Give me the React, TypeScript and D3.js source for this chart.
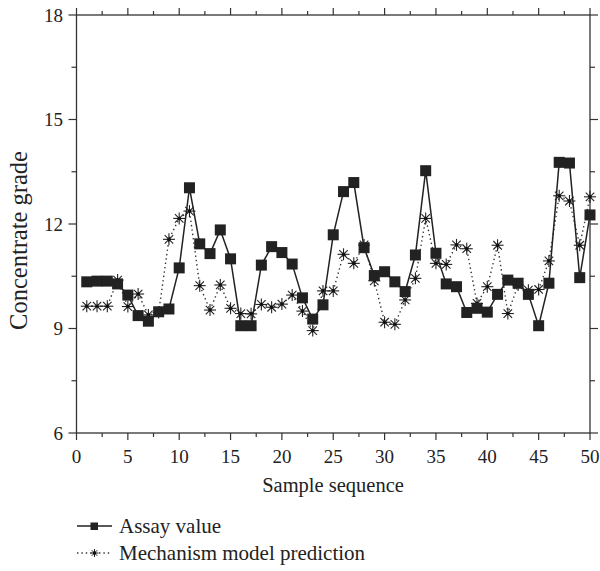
import React from "react";
import * as d3 from "d3";

const sampleIds = d3.range(1, 51);
const assayValues = [
  10.34, 10.36, 10.36, 10.28, 9.96, 9.37, 9.21, 9.48, 9.56, 10.74,
  13.04, 11.43, 11.15, 11.83, 11.0, 9.08, 9.08, 10.82, 11.35, 11.18,
  10.85, 9.88, 9.27, 9.68, 11.69, 12.93, 13.19, 11.32, 10.52, 10.63,
  10.34, 10.06, 11.11, 13.53, 11.16, 10.28, 10.2, 9.46, 9.58, 9.47,
  9.98, 10.39, 10.3, 9.98, 9.08, 10.3, 13.77, 13.75, 10.46, 12.26,
];
const modelValues = [
  9.64, 9.64, 9.64, 10.39, 9.63, 9.99, 9.39, 9.46, 11.56, 12.16,
  12.37, 10.23, 9.53, 10.25, 9.58, 9.43, 9.42, 9.69, 9.61, 9.7,
  9.96, 9.5, 8.94, 10.08, 10.08, 11.13, 10.87, 11.4, 10.37, 9.18,
  9.12, 9.82, 10.44, 12.16, 10.87, 10.84, 11.4, 11.29, 9.72, 10.2,
  11.39, 9.43, 10.25, 10.1, 10.12, 10.94, 12.81, 12.66, 11.39, 12.78,
];
const xTicks = [0, 5, 10, 15, 20, 25, 30, 35, 40, 45, 50];
const yTicks = [6, 9, 12, 15, 18];
const xLabel = "Sample sequence";
const yLabel = "Concentrate grade";
const legendLabels = ["Assay value", "Mechanism model prediction"];

const W = 600;
const H = 571;
const FONT = "'Liberation Serif', 'DejaVu Serif', serif";

function Star({ x, y, r, sw = 1.1 }: { x: number; y: number; r: number; sw?: number }) {
  const d = r * Math.SQRT1_2;
  return (
    <g stroke="#222" strokeWidth={sw}>
      <line x1={x} y1={y - r} x2={x} y2={y + r} />
      <line x1={x - r} y1={y} x2={x + r} y2={y} />
      <line x1={x - d} y1={y - d} x2={x + d} y2={y + d} />
      <line x1={x - d} y1={y + d} x2={x + d} y2={y - d} />
      <circle cx={x} cy={y} r={1.8} fill="#111" stroke="none" />
    </g>
  );
}

export default function App() {
  const x = d3.scaleLinear().domain([0, 50]).range([76.5, 590]);
  const y = d3.scaleLinear().domain([6, 18]).range([433, 15]);
  const xMinor = d3.range(0, 50.01, 2.5);
  const yMinor = d3.range(6, 18.01, 1.5);
  const lineA = d3
    .line<number>()
    .x((_, i) => x(sampleIds[i]))
    .y((v) => y(v));
  const axisColor = "#333";
  const [x0, x1] = x.range();
  const [yb, yt] = y.range();

  return (
    <svg width={W} height={H} style={{ position: "absolute", left: 0, top: 0 }}>
      <rect width={W} height={H} fill="#fff" />
      <rect x={x0} y={yt} width={x1 - x0} height={yb - yt} fill="none" stroke={axisColor} strokeWidth={1.3} />
      {xMinor.map((t) => {
        const major = t % 5 === 0;
        const len = major ? 7 : 4;
        return (
          <g key={"xt" + t} stroke={axisColor} strokeWidth={1.2}>
            <line x1={x(t)} x2={x(t)} y1={yb} y2={yb + len} />
            <line x1={x(t)} x2={x(t)} y1={yt} y2={yt - len} />
          </g>
        );
      })}
      {yMinor.map((t) => {
        const major = t % 3 === 0;
        const len = major ? 8 : 5;
        return (
          <g key={"yt" + t} stroke={axisColor} strokeWidth={1.2}>
            <line x1={x0} x2={x0 - len} y1={y(t)} y2={y(t)} />
            <line x1={x1} x2={x1 + len} y1={y(t)} y2={y(t)} />
          </g>
        );
      })}
      {xTicks.map((t) => (
        <text key={"xl" + t} x={x(t)} y={463} textAnchor="middle" fontFamily={FONT} fontSize={19} fill="#222">
          {t}
        </text>
      ))}
      {yTicks.map((t) => (
        <text key={"yl" + t} x={63} y={y(t) + 6.5} textAnchor="end" fontFamily={FONT} fontSize={19} fill="#222">
          {t}
        </text>
      ))}
      <text x={333} y={491.5} textAnchor="middle" fontFamily={FONT} fontSize={20.5} fill="#222">
        {xLabel}
      </text>
      <text
        transform={`translate(27, 240.5) rotate(-90)`}
        textAnchor="middle"
        fontFamily={FONT}
        fontSize={24.5}
        fill="#222"
      >
        {yLabel}
      </text>
      <path d={lineA(modelValues) ?? ""} fill="none" stroke="#333" strokeWidth={1.4} strokeDasharray="1.4 3" />
      {modelValues.map((v, i) => (
        <Star key={"s" + i} x={x(sampleIds[i])} y={y(v)} r={6} />
      ))}
      <path d={lineA(assayValues) ?? ""} fill="none" stroke="#222" strokeWidth={1.5} />
      {assayValues.map((v, i) => (
        <rect key={"a" + i} x={x(sampleIds[i]) - 5.5} y={y(v) - 5.5} width={11} height={11} fill="#222" />
      ))}
      <line x1={77} x2={112} y1={526} y2={526} stroke="#222" strokeWidth={1.5} />
      <rect x={90.5} y={522.5} width={7.5} height={7.5} fill="#222" />
      <text x={119} y={533} fontFamily={FONT} fontSize={21} fill="#222">
        {legendLabels[0]}
      </text>
      <line x1={77} x2={112} y1={553} y2={553} stroke="#333" strokeWidth={1.4} strokeDasharray="1.4 3" />
      <Star x={94.5} y={553} r={4} sw={1} />
      <text x={119} y={560} fontFamily={FONT} fontSize={21} fill="#222">
        {legendLabels[1]}
      </text>
    </svg>
  );
}
